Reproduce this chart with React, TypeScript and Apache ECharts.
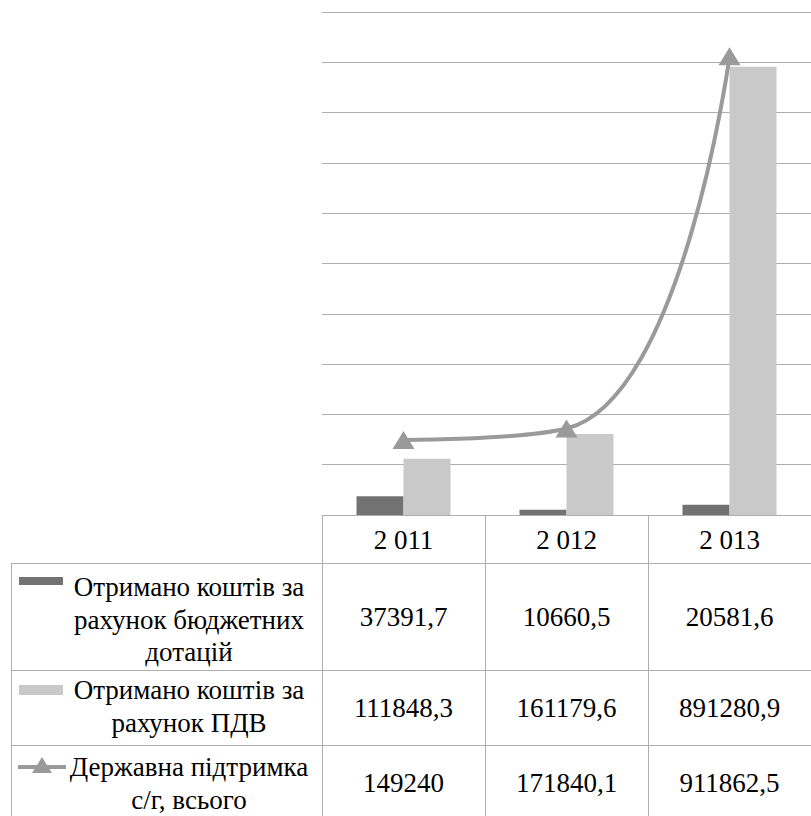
import React, { useEffect, useRef } from "react";
import * as echarts from "echarts";

const categories = ["2 011", "2 012", "2 013"];
const budgetSubsidies = [37391.7, 10660.5, 20581.6];
const vatFunds = [111848.3, 161179.6, 891280.9];
const totalSupport = [149240, 171840.1, 911862.5];

const rowLabels = [
  ["Отримано коштів за", "рахунок бюджетних", "дотацій"],
  ["Отримано коштів за", "рахунок ПДВ"],
  ["Державна підтримка", "с/г, всього"],
];
const seriesNames = [
  "Отримано коштів за рахунок бюджетних дотацій",
  "Отримано коштів за рахунок ПДВ",
  "Державна підтримка с/г, всього",
];

const FONT = "Liberation Serif, serif";
const FS = 27;
const DARK = "#727272";
const LIGHT = "#c9c9c9";
const LINE = "#9a9a9a";
const GRIDC = "#aeaeae";

const fmt = (v: number) => String(v).replace(".", ",");

export default function App() {
  const ref = useRef<HTMLDivElement>(null);
  useEffect(() => {
    if (!ref.current) return;
    const chart = echarts.init(ref.current, null, { renderer: "svg" });
    chart.setOption({
      animation: false,
      backgroundColor: "#ffffff",
      textStyle: { fontFamily: FONT },
      grid: { left: 322, top: 12, width: 497, height: 503 },
      xAxis: {
        type: "category",
        data: categories,
        axisLine: { show: true, lineStyle: { color: GRIDC, width: 1 } },
        axisTick: { show: true, length: 310, lineStyle: { color: GRIDC, width: 1 } },
        axisLabel: { fontFamily: FONT, fontSize: FS, color: "#000", margin: 11 },
      },
      yAxis: {
        type: "value",
        min: 0,
        max: 1000000,
        interval: 100000,
        axisLabel: { show: false },
        axisLine: { show: false },
        axisTick: { show: false },
        splitLine: { lineStyle: { color: GRIDC, width: 1 } },
      },
      series: [
        {
          name: seriesNames[0],
          type: "bar",
          data: budgetSubsidies,
          barWidth: 47,
          barGap: "0%",
          itemStyle: { color: DARK },
        },
        {
          name: seriesNames[1],
          type: "bar",
          data: vatFunds,
          barWidth: 47,
          barGap: "0%",
          itemStyle: { color: LIGHT },
        },
        {
          name: seriesNames[2],
          type: "line",
          data: totalSupport,
          smooth: 0.5,
          symbol: "triangle",
          symbolSize: [22, 18],
          lineStyle: { color: LINE, width: 4 },
          itemStyle: { color: LINE },
          z: 5,
        },
      ],
    });

    const xs = categories.map((c) => chart.convertToPixel({ xAxisIndex: 0 }, c) as number);
    const rows = [
      { top: 563, lines: [587, 620, 652], valueY: 617, values: budgetSubsidies },
      { top: 670, lines: [690, 723], valueY: 708, values: vatFunds },
      { top: 745, lines: [767, 800], valueY: 783, values: totalSupport },
    ];
    const txt = (x: number, y: number, t: string) => ({
      type: "text",
      x,
      y,
      style: {
        text: t,
        fontFamily: FONT,
        fontSize: FS,
        fill: "#000",
        align: "center",
        verticalAlign: "middle",
      },
    });
    const graphics: any[] = [];
    rows.forEach((r, i) => {
      graphics.push({
        type: "line",
        shape: { x1: 11, y1: r.top + 0.5, x2: 811, y2: r.top + 0.5 },
        style: { stroke: GRIDC, lineWidth: 1 },
      });
      rowLabels[i].forEach((t, j) => graphics.push(txt(189, r.lines[j], t)));
      r.values.forEach((v, k) => graphics.push(txt(xs[k], r.valueY, fmt(v))));
    });
    graphics.push({
      type: "line",
      shape: { x1: 11.5, y1: 563, x2: 11.5, y2: 816 },
      style: { stroke: GRIDC, lineWidth: 1 },
    });
    // legend keys
    graphics.push({ type: "rect", shape: { x: 19, y: 577, width: 44, height: 8 }, style: { fill: DARK } });
    graphics.push({ type: "rect", shape: { x: 19, y: 685, width: 44, height: 10 }, style: { fill: LIGHT } });
    graphics.push({
      type: "line",
      shape: { x1: 18, y1: 767, x2: 66, y2: 767 },
      style: { stroke: LINE, lineWidth: 4 },
    });
    graphics.push({
      type: "polygon",
      shape: { points: [[42, 757], [52, 773], [32, 773]] },
      style: { fill: LINE },
    });
    chart.setOption({ graphic: graphics });

    return () => chart.dispose();
  }, []);
  return (
    <div style={{ position: "fixed", left: 0, top: 0, width: 811, height: 816, overflow: "hidden", background: "#fff" }}>
      <div ref={ref} style={{ width: 811, height: 816 }} />
    </div>
  );
}
